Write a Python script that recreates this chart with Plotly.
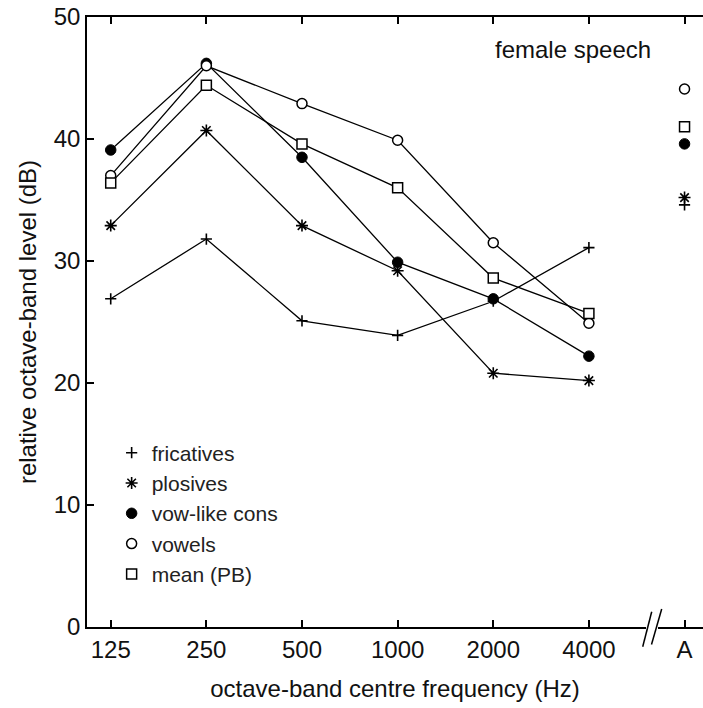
import plotly.graph_objects as go

# ---- data ----
bands = ["125", "250", "500", "1000", "2000", "4000"]
a_label = "A"
tick_labels = bands + [a_label]
y_ticks = [0, 10, 20, 30, 40, 50]

series_names = ["fricatives", "plosives", "vow-like cons", "vowels", "mean (PB)"]

fricatives = [26.9, 31.8, 25.1, 23.9, 26.7, 31.1]
plosives = [32.9, 40.7, 32.9, 29.2, 20.8, 20.2]
vowlike = [39.1, 46.2, 38.5, 29.9, 26.9, 22.2]
vowels = [37.0, 46.0, 42.9, 39.9, 31.5, 24.9]
mean_pb = [36.4, 44.4, 39.6, 36.0, 28.6, 25.7]

a_fricatives = 34.6
a_plosives = 35.2
a_vowlike = 39.6
a_vowels = 44.1
a_mean = 41.0

# ---- styles ----
FONT = "Liberation Sans, Arial, Helvetica, sans-serif"
styles = [
    dict(symbol="cross-thin-open", size=8, color="black", line=dict(color="black", width=1.6)),
    dict(symbol="asterisk-open", size=10, color="black", line=dict(color="black", width=1.6)),
    dict(symbol="circle", size=10.5, color="black", line=dict(color="black", width=1)),
    dict(symbol="circle", size=10, color="white", line=dict(color="black", width=1.5)),
    dict(symbol="square", size=10, color="white", line=dict(color="black", width=1.5)),
]
band_values = [fricatives, plosives, vowlike, vowels, mean_pb]
a_values = [a_fricatives, a_plosives, a_vowlike, a_vowels, a_mean]

fig = go.Figure()
for name, vals, st in zip(series_names, band_values, styles):
    fig.add_trace(go.Scatter(
        x=bands, y=vals, mode="lines+markers", name=name, showlegend=False,
        line=dict(color="black", width=1.3), marker=st, cliponaxis=False,
    ))
for name, val, st in zip(series_names, a_values, styles):
    fig.add_trace(go.Scatter(
        x=[a_label], y=[val], mode="markers", name=name, showlegend=True,
        marker=st, cliponaxis=False,
    ))

# axis break on the x axis (between 4000 and A)
def px_x(p):
    return (p - 87) / 616.0

def px_y(p):
    return (627 - p) / 610.0

shapes = [
    dict(type="line", xref="paper", yref="paper", x0=px_x(646), x1=px_x(658), y0=0, y1=0,
         line=dict(color="white", width=4)),
    dict(type="line", xref="paper", yref="paper", x0=px_x(642.7), y0=px_y(646.7),
         x1=px_x(651.7), y1=px_y(611.7), line=dict(color="black", width=1.5)),
    dict(type="line", xref="paper", yref="paper", x0=px_x(651.5), y0=px_y(644.5),
         x1=px_x(661.7), y1=px_y(609), line=dict(color="black", width=1.5)),
]

fig.update_layout(
    width=703, height=708,
    margin=dict(l=87, r=0, t=17, b=81),
    paper_bgcolor="white", plot_bgcolor="white",
    font=dict(family=FONT, size=24, color="black"),
    showlegend=True,
    legend=dict(x=0.04, y=0.186, xanchor="left", yanchor="middle",
                font=dict(family=FONT, size=21, color="#222"),
                bgcolor="rgba(0,0,0,0)", borderwidth=0, tracegroupgap=0),
    xaxis=dict(
        type="category", categoryorder="array", categoryarray=tick_labels,
        tickmode="array", tickvals=tick_labels, ticktext=tick_labels,
        range=[-0.248, 6.193], showgrid=False, zeroline=False,
        showline=True, linecolor="black", linewidth=1.5, mirror="ticks",
        ticks="inside", ticklen=7, tickwidth=1.5, tickcolor="black",
        tickfont=dict(family=FONT, size=24, color="#111"),
        title=dict(text="octave-band centre frequency (Hz)", standoff=19,
                   font=dict(family=FONT, size=24, color="#111")),
    ),
    yaxis=dict(
        range=[0, 50], tickmode="array", tickvals=y_ticks,
        showgrid=False, zeroline=False,
        showline=True, linecolor="black", linewidth=1.5, mirror=False,
        ticks="inside", ticklen=7, tickwidth=1.5, tickcolor="black",
        tickfont=dict(family=FONT, size=24, color="#111"),
        title=dict(text="relative octave-band level (dB)", standoff=10,
                   font=dict(family=FONT, size=24, color="#111")),
    ),
    yaxis2=dict(
        overlaying="y", side="right", anchor="x", range=[0, 50],
        tickmode="array", tickvals=y_ticks, showticklabels=False,
        showgrid=False, zeroline=False, showline=False,
        ticks="inside", ticklen=5, tickwidth=1.5, tickcolor="black",
    ),
    shapes=shapes,
    annotations=[dict(text="female speech", xref="paper", yref="paper",
                      x=px_x(573), y=px_y(49), xanchor="center", yanchor="middle",
                      showarrow=False, font=dict(family=FONT, size=24, color="#111"))],
)

fig.write_html("out.html")
